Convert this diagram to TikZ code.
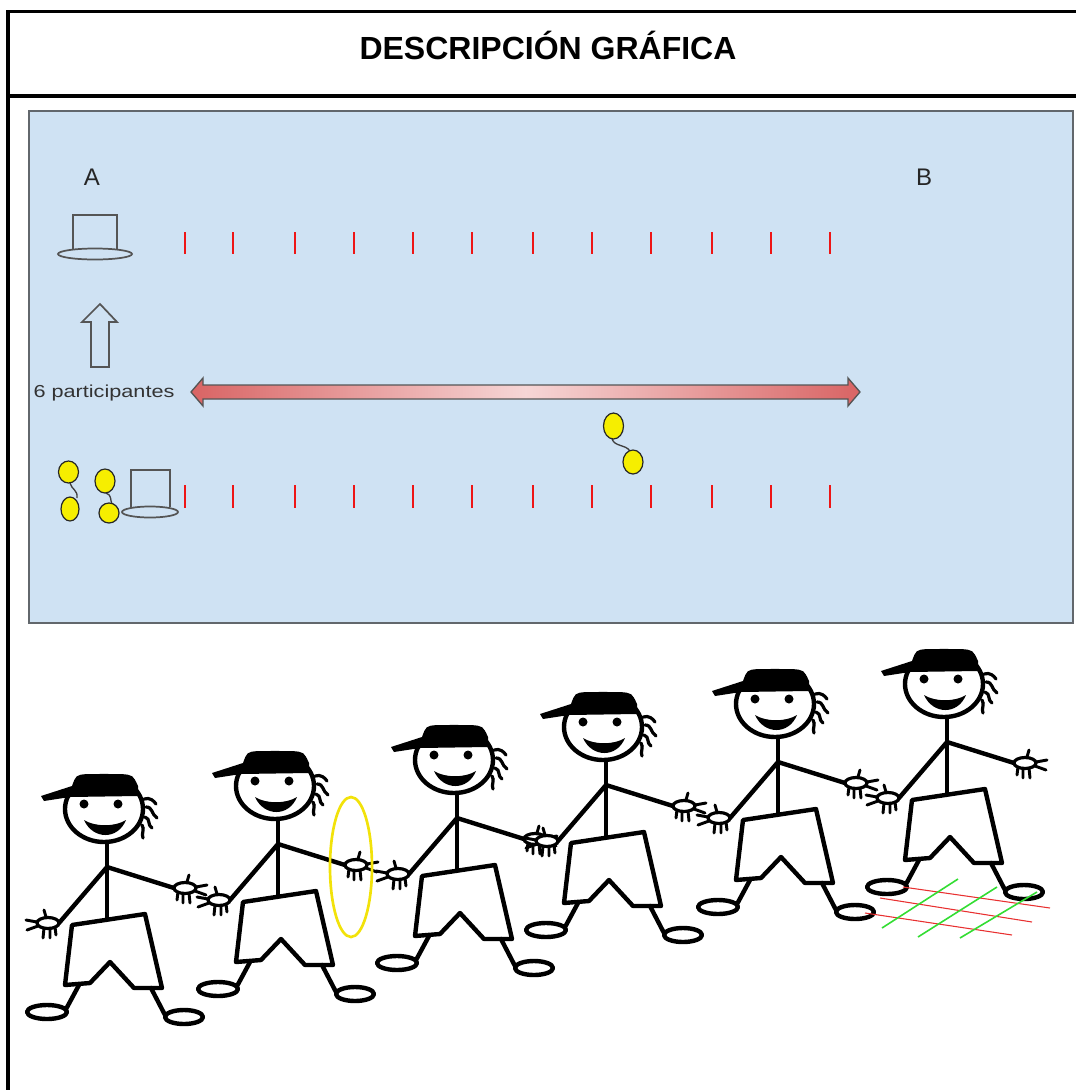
\documentclass[tikz,border=0pt]{standalone}
\usepackage{fontspec}
\setmainfont{Liberation Sans}
\usetikzlibrary{calc}

\definecolor{panelblue}{HTML}{CFE2F3}
\definecolor{paneledge}{HTML}{62676C}
\definecolor{iconline}{HTML}{555555}
\definecolor{tickred}{HTML}{EE1515}
\definecolor{balloon}{HTML}{F6EE00}
\definecolor{arrowred}{HTML}{D96464}
\definecolor{arrowpink}{HTML}{F6D6D6}
\definecolor{hoopyellow}{HTML}{F2E20A}
\definecolor{gridgreen}{HTML}{33DD33}
\definecolor{gridred}{HTML}{E83030}

\tikzset{
  outline/.style={draw=iconline, line width=1.3pt},
  tickmark/.style={draw=tickred, line width=1.4pt},
  balloonbody/.style={fill=balloon, draw=black!85, line width=0.9pt},
  stick/.style={line width=3.3pt, line cap=round, line join=round},
  % small hand with fingers pointing to -x
  hand/.pic={
    \draw[line width=2.4pt, fill=white] (0,0) ellipse [x radius=11, y radius=5.5];
    \draw[line width=2.2pt, line cap=round]
      (-11,-1) -- (-22,-3) (-10,3) -- (-21,7) (-2,-6) -- (-4,-13)
      (-4,5) -- (-5,15) (2,5) -- (2,15) (7,4) -- (8,12);
  },
  % stick kid, origin at the shoulders
  kid/.pic={
    % head and cap
    \draw[stick, fill=white] (-3,-58) ellipse [x radius=39, y radius=33];
    \fill (-66,-71) -- (-35,-81) .. controls (-31,-92) .. (-20,-93) -- (14,-93)
      .. controls (26,-92) .. (31,-81) -- (31,-71) -- (-37,-70)
      -- (-63,-66) -- cycle;
    % face
    \fill (-23,-63) circle (4.5) (11,-63) circle (4.5);
    \fill (-23,-47) .. controls (-14,-27) and (11,-27) .. (19,-47)
      .. controls (8,-40) and (-12,-40) .. cycle;
    % hair
    \draw[line width=2.4pt, line cap=round]
      (37,-68) .. controls (43,-70) and (47,-66) .. (49,-63)
      (39,-60) .. controls (46,-60) and (44,-53) .. (50,-49)
      (38,-50) .. controls (44,-48) and (40,-42) .. (45,-39)
      (35,-42) .. controls (38,-38) and (34,-33) .. (36,-29);
    % body and arms
    \draw[stick] (0,-25) -- (0,53);
    \draw[stick] (-48,56) -- (0,0) -- (67,21);
    \pic at (-59,56) {hand};
    \pic[xscale=-1] at (78,21) {hand};
    % shorts
    \draw[stick, fill=white] (-35,58) -- (38,47) -- (55,121) -- (27,121)
      -- (3,95) -- (-17,116) -- (-42,118) -- cycle;
    % legs and feet
    \draw[stick] (-28,118) -- (-42,144);
    \draw[stick] (44,121) -- (58,148);
    \draw[stick, fill=white] (-60,145) ellipse [x radius=20, y radius=7];
    \draw[stick, fill=white] (77,150) ellipse [x radius=19, y radius=7];
  }
}

\begin{document}
\begin{tikzpicture}[x=0.75pt,y=-0.75pt]
\useasboundingbox (0,0) rectangle (1076,1090);
% Table frame and header
\draw[line width=2.5pt] (7,11.5) -- (1076,11.5);
\draw[line width=2.5pt] (7,96) -- (1076,96);
\draw[line width=2.5pt] (8,10) -- (8,1090);
\node[font=\bfseries\fontsize{24}{28}\selectfont] (title) at (548,45) {DESCRIPCIÓN GRÁFICA};

% Blue field
\draw[fill=panelblue, draw=paneledge, line width=2.2pt] (29,111) rectangle (1073,623);
\node[font=\fontsize{18}{20}\selectfont, text=black!85] (ptA) at (92,177) {A};
\node[font=\fontsize{18}{20}\selectfont, text=black!85] (ptB) at (924,177) {B};

% Rows of red marks
\foreach \x in {185,233,295,354,413,472,533,592,651,712,771,830} {
  \draw[tickmark] (\x,232) -- (\x,254);
  \draw[tickmark] (\x,485) -- (\x,508);
}

% Hats at both ends of the rows
\draw[outline] (73,250) -- (73,215) -- (117,215) -- (117,250);
\draw[outline, fill=panelblue] (95,254) ellipse [x radius=37, y radius=5.5];
\draw[outline] (131,507) -- (131,470) -- (170,470) -- (170,507);
\draw[outline, fill=panelblue] (150,512) ellipse [x radius=28, y radius=5.5];

% Arrow up and group label
\draw[outline, fill=panelblue] (91,367) -- (91,322) -- (82,322) -- (100,304)
  -- (117,322) -- (109,322) -- (109,367) -- cycle;
\node[font=\fontsize{13}{15}\selectfont, text=black!80, xscale=1.25] (group) at (104,393) {6 participantes};

% Long double arrow A--B
\shadedraw[left color=arrowred, right color=arrowred, middle color=arrowpink,
  draw=iconline, line width=1pt]
  (191,392) -- (203,378) -- (203,385) -- (848,385) -- (848,378) -- (860,392)
  -- (848,406) -- (848,399) -- (203,399) -- (203,406) -- cycle;

% Balloon pairs tied by a string
\draw[black!75, line width=1pt] (70,483) .. controls (72,490) and (78,490) .. (77,498);
\draw[balloonbody] (68.5,472) ellipse [x radius=10, y radius=11];
\draw[balloonbody] (70,509) ellipse [x radius=9, y radius=12];
\draw[black!75, line width=1pt] (106,493) .. controls (112,495) and (110,500) .. (112,504);
\draw[balloonbody] (105,481) ellipse [x radius=10, y radius=12];
\draw[balloonbody] (109,513) ellipse [x radius=10, y radius=10];
\draw[black!75, line width=1pt] (612,439) .. controls (615,447) and (625,444) .. (630,451);
\draw[balloonbody] (613.5,426) ellipse [x radius=10, y radius=13];
\draw[balloonbody] (633,462) ellipse [x radius=10, y radius=12];

% Six kids holding hands
\foreach \px/\py [count=\i] in {107/867,278/844,457/818,606/785,778/762,947/742}
  \pic (kid\i) at (\px,\py) {kid};

% Hoop around the second kid's hand
\draw[hoopyellow, line width=2pt] (351,867) ellipse [x radius=21, y radius=70];

% Grid under the last kid
\draw[gridred, line width=0.8pt] (903,887) -- (1050,908) (880,898) -- (1032,922) (865,913) -- (1012,935);
\draw[gridgreen, line width=1.2pt] (882,928) -- (958,879) (918,937) -- (997,887) (960,938) -- (1037,892);
\end{tikzpicture}
\end{document}
